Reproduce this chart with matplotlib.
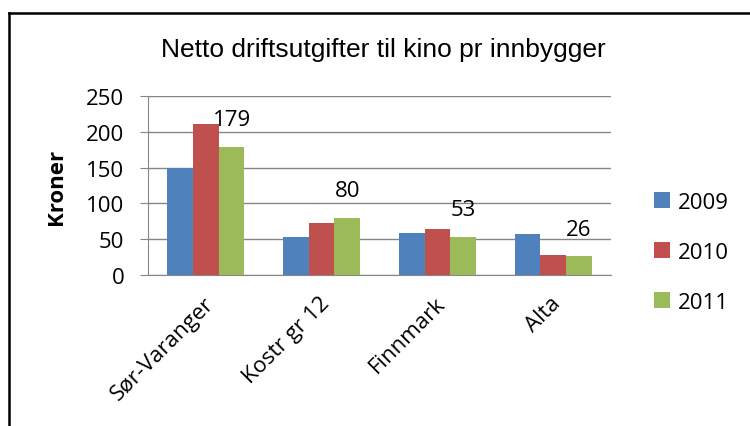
import matplotlib
matplotlib.use("Agg")
import matplotlib.pyplot as plt
import numpy as np
from matplotlib.lines import Line2D

categories = ["Sør-Varanger", "Kostr gr 12", "Finnmark", "Alta"]
years = ["2009", "2010", "2011"]
v2009 = [150, 53, 59, 57]
v2010 = [211, 72, 64, 27]
v2011 = [179, 80, 53, 26]
yticks = [0, 50, 100, 150, 200, 250]
colors = ["#4F81BD", "#C0504D", "#9BBB59"]

plt.rcParams['font.family'] = ['Open Sans', 'DejaVu Sans']
FS = 16

fig = plt.figure(figsize=(7.5, 4.27), dpi=100)
ax = fig.add_axes([148 / 750, 1 - 275.7 / 427, 463 / 750, 178.4 / 427])

x = np.arange(len(categories))
w = 0.222
series = [v2009, v2010, v2011]
for i, (vals, c, lab) in enumerate(zip(series, colors, years)):
    ax.bar(x + (i - 1) * w, vals, width=w, color=c, label=lab, zorder=3)

for xi, v in zip(x, v2011):
    ax.annotate(str(v), (xi + w, v), xytext=(0, 19.5), textcoords="offset points",
                ha="center", va="center", fontsize=FS, color="black", zorder=4)

ax.set_xlim(-0.5, len(categories) - 0.5)
ax.set_ylim(0, 250)
ax.set_yticks(yticks)
ax.set_yticklabels([str(t) for t in yticks], fontsize=FS)
ax.yaxis.grid(True, color="#868686", linewidth=1.0, zorder=0)
ax.set_xticks(x + 0.04)
ax.set_xticklabels(categories, rotation=45, ha="right", va="center",
                   rotation_mode="anchor", fontsize=FS)
ax.tick_params(axis="x", length=0, pad=18)
ax.tick_params(axis="y", length=6, color="#868686", pad=11)
for s in ["top", "right"]:
    ax.spines[s].set_visible(False)
ax.spines["left"].set_color("#868686")
ax.spines["bottom"].set_color("#868686")
ax.set_ylabel("Kroner", fontsize=FS, fontweight="bold")
ax.yaxis.set_label_coords(-0.175, 0.5)

fig.text(0.511, 0.883, "Netto driftsutgifter til kino pr innbygger",
         ha="center", va="center", fontsize=19, family=["Liberation Sans"])

leg = ax.legend(loc="center left", bbox_to_anchor=(1.05, 0.125), frameon=False,
                fontsize=FS, handlelength=0.7, handleheight=0.7, labelspacing=1.3,
                handletextpad=0.35)

fig.add_artist(Line2D([0.0115, 0.0115], [0, 1 - 13.5 / 427], color="black", linewidth=1.8,
                      transform=fig.transFigure))
fig.add_artist(Line2D([0.0115, 1.0], [1 - 13.5 / 427, 1 - 13.5 / 427], color="black",
                      linewidth=1.8, transform=fig.transFigure))

fig.savefig("out.png", dpi=100)
